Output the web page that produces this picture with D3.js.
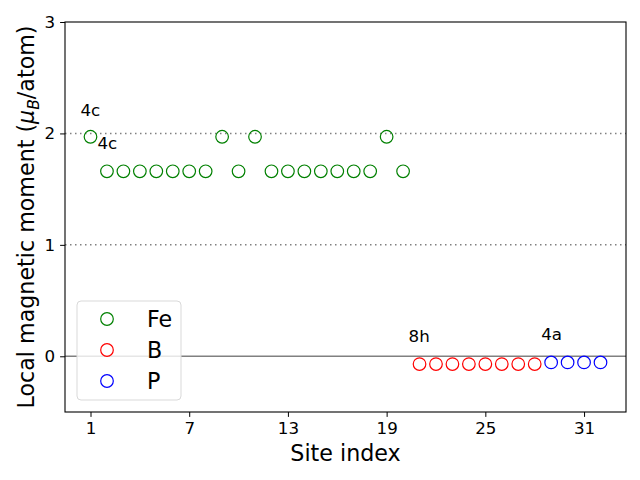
<!DOCTYPE html>
<html><head><meta charset="utf-8">
<script src="https://cdn.jsdelivr.net/npm/d3@7"></script>
<style>body{margin:0;background:#fff}svg{display:block}text{font-family:"DejaVu Sans",sans-serif}</style>
</head><body><svg id="c" width="640" height="480"></svg>
<script>
const feSites = [1,2,3,4,5,6,7,8,9,10,11,12,13,14,15,16,17,18,19,20];
const feValues = [1.97,1.66,1.66,1.66,1.66,1.66,1.66,1.66,1.97,1.66,1.97,1.66,1.66,1.66,1.66,1.66,1.66,1.66,1.97,1.66];
const bSites = [21,22,23,24,25,26,27,28];
const bValues = [-0.07,-0.07,-0.07,-0.07,-0.07,-0.07,-0.07,-0.07];
const pSites = [29,30,31,32];
const pValues = [-0.055,-0.055,-0.055,-0.055];
const xTicks = [1,7,13,19,25,31];
const yTicks = [0,1,2,3];
const labels = [{t:"4c",x:1,y:1.97,dx:-10,dy:-21},{t:"4c",x:1,y:1.97,dx:7,dy:12},{t:"8h",x:21,y:-0.07,dx:-11,dy:-22},{t:"4a",x:29,y:-0.055,dx:-10,dy:-22}];
const series = [{name:"Fe",color:"green",xs:feSites,ys:feValues},{name:"B",color:"red",xs:bSites,ys:bValues},{name:"P",color:"blue",xs:pSites,ys:pValues}];

const svg = d3.select("#c");
const L=65,R=626,T=22,B=412;
const x = d3.scaleLinear().domain([-0.55,33.55]).range([L,R]);
const y = d3.scaleLinear().domain([-0.5,3]).range([B,T]);

[2,1].forEach(v=>{
  svg.append("line").attr("x1",L).attr("x2",R).attr("y1",y(v)).attr("y2",y(v))
    .attr("stroke","#808080").attr("stroke-width",1.5).attr("stroke-dasharray","1.5,3.5");
});
svg.append("line").attr("x1",L).attr("x2",R).attr("y1",y(0)).attr("y2",y(0))
  .attr("stroke","#808080").attr("stroke-width",1.5);

series.forEach(s=>{
  svg.append("g").selectAll("circle").data(s.xs.map((v,i)=>[v,s.ys[i]])).join("circle")
    .attr("cx",d=>x(d[0])).attr("cy",d=>y(d[1])).attr("r",6.3)
    .attr("fill","none").attr("stroke",s.color).attr("stroke-width",1.2);
});

labels.forEach(l=>{
  svg.append("text").attr("x",x(l.x)+l.dx).attr("y",y(l.y)+l.dy).attr("font-size",16.7).text(l.t);
});

const xa = svg.append("g").attr("transform",`translate(0,${B})`).call(d3.axisBottom(x).tickValues(xTicks).tickFormat(d3.format("d")).tickSize(4.9).tickPadding(4.9));
const ya = svg.append("g").attr("transform",`translate(${L},0)`).call(d3.axisLeft(y).tickValues(yTicks).tickFormat(d3.format("d")).tickSize(4.9).tickPadding(4.9));
[xa,ya].forEach(a=>{a.select(".domain").remove();a.selectAll("text").attr("font-size",16.7).attr("font-family","DejaVu Sans").attr("fill","#000");a.selectAll("line").attr("stroke","#000").attr("stroke-width",1);});
svg.append("rect").attr("x",L).attr("y",T).attr("width",R-L).attr("height",B-T).attr("fill","none").attr("stroke","#000").attr("stroke-width",1.1);

svg.append("text").attr("x",(L+R)/2).attr("y",461).attr("text-anchor","middle").attr("font-size",22.2).text("Site index");
const yl = svg.append("text").attr("transform",`translate(34,${(T+B)/2}) rotate(-90)`).attr("text-anchor","middle").attr("font-size",22.2);
yl.append("tspan").text("Local magnetic moment (");
yl.append("tspan").attr("font-style","italic").text("μ");
yl.append("tspan").attr("font-style","italic").attr("font-size",15.5).attr("dy",5).text("B");
yl.append("tspan").attr("dy",-5).text("/atom)");

const lg = svg.append("g");
lg.append("rect").attr("x",77).attr("y",301).attr("width",104).attr("height",99).attr("rx",4)
  .attr("fill","rgba(255,255,255,0.8)").attr("stroke","#d9d9d9").attr("stroke-width",1);
series.forEach((s,i)=>{
  const cy = 319+i*31;
  lg.append("circle").attr("cx",107).attr("cy",cy).attr("r",6.3).attr("fill","none").attr("stroke",s.color).attr("stroke-width",1.2);
  lg.append("text").attr("x",147).attr("y",cy+8).attr("font-size",22.2).text(s.name);
});
</script></body></html>
